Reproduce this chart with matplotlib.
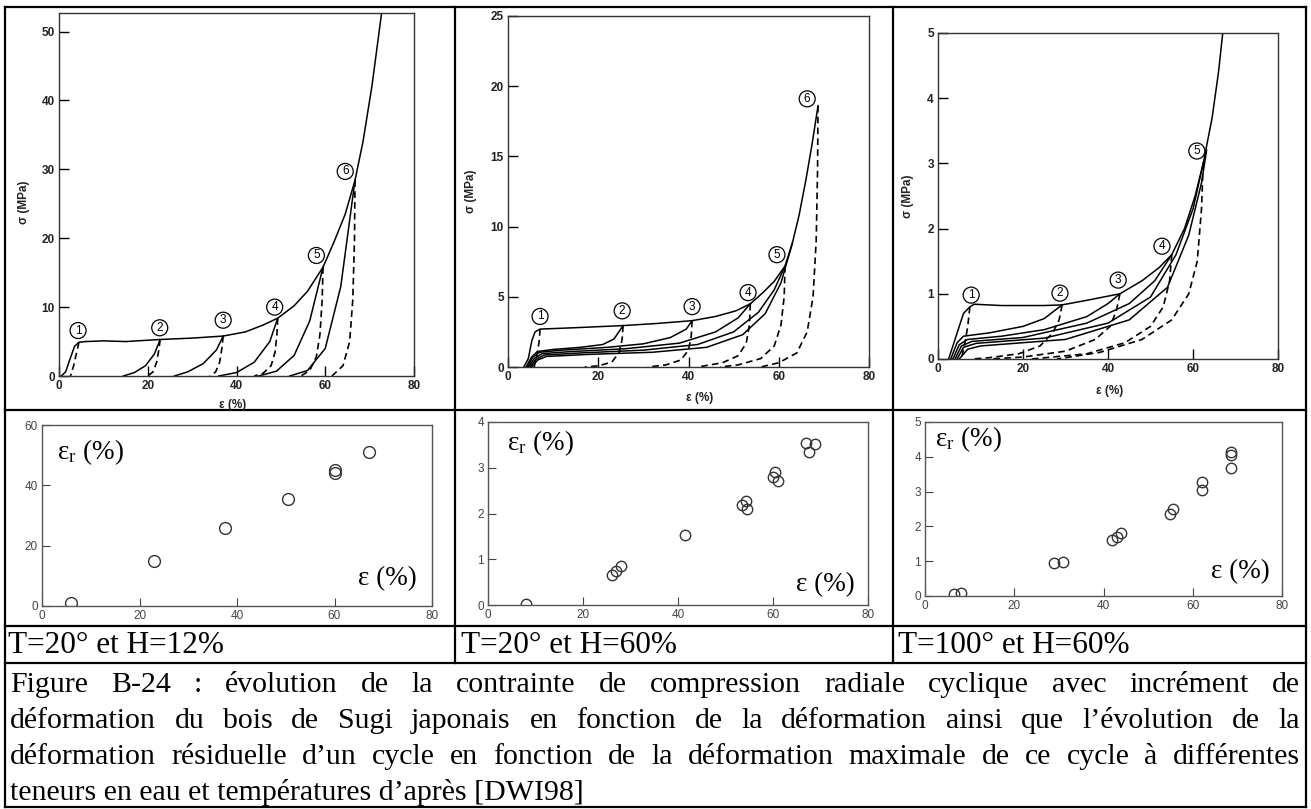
import matplotlib
matplotlib.use("Agg")
import matplotlib.pyplot as plt
from matplotlib.lines import Line2D

plt.rcParams.update({"mathtext.fontset": "custom",
                     "mathtext.rm": "Liberation Serif",
                     "mathtext.it": "Liberation Serif:italic"})

W, H = 1311, 809
SERIF = "Liberation Serif"
SANS = "Liberation Sans"
NARROW = ["Liberation Sans Narrow", "Liberation Sans"]

# ---- top row: cyclic compression curves (strain %, stress MPa) ----
# T=20, H=12%
env1_x = [0.5, 1.5, 2.5, 3.5, 4.5, 6, 10, 15, 22.8, 30, 37, 42, 46, 49.3, 53, 56, 59.5, 62, 64.5, 66.7, 68.5, 70.5, 72.7]
env1_y = [0, 0.6, 2.5, 4.3, 4.9, 5.0, 5.1, 5.0, 5.3, 5.5, 5.8, 6.4, 7.4, 8.4, 10.2, 12.3, 15.8, 19.5, 23.5, 28.4, 34, 42, 52.7]
rel1 = [
    ([14.5, 17, 19.5, 21.5, 22.8], [0, 0.5, 1.5, 3.2, 5.3]),
    ([26, 29, 32.5, 35.5, 37], [0, 0.6, 1.8, 3.8, 5.8]),
    ([36, 40, 44, 47.5, 49.3], [0, 0.5, 2.0, 5.0, 8.4]),
    ([45, 49, 53, 56.5, 59.5], [0, 0.7, 3.0, 8.0, 15.8]),
    ([52, 56, 60, 63.5, 66.7], [0, 0.8, 4.0, 13.0, 28.4]),
]
unl1 = [
    ([4.5, 4.0, 3.3, 2.6], [4.9, 3.5, 1.5, 0]),
    ([22.8, 22.5, 22.0, 21.2, 20], [5.3, 3.8, 2.0, 0.6, 0]),
    ([37, 36.7, 36.2, 35.3, 34], [5.8, 4.0, 2.0, 0.6, 0]),
    ([49.3, 49.1, 48.7, 47.8, 46, 44], [8.4, 6, 3.5, 1.5, 0.4, 0]),
    ([59.5, 59.3, 58.8, 58, 56.5, 54.5], [15.8, 11, 6, 2.8, 0.8, 0]),
    ([66.7, 66.6, 66.2, 65.5, 64, 61.5], [28.4, 20, 11, 5, 1.5, 0]),
]
lab1 = [(4.3, 6.6), (22.7, 7.0), (37, 8.1), (48.6, 10.0), (58, 17.5), (64.5, 29.7)]

# T=20, H=60%
env2_x = [3.5, 4.5, 5.3, 6, 7.1, 15, 25.5, 33, 40.8, 46, 50.5, 53.7, 56.5, 59, 61.4, 63, 64.5, 66, 67.4, 68.7]
env2_y = [0, 0.6, 1.9, 2.5, 2.7, 2.8, 2.95, 3.1, 3.3, 3.6, 4.0, 4.5, 5.3, 6.1, 7.2, 8.8, 10.8, 13.3, 15.9, 18.6]
rel2 = [
    ([4.0, 5.2, 6.5, 10, 16, 21, 23.5, 25.5], [0, 0.7, 1.1, 1.25, 1.4, 1.6, 2.0, 2.95]),
    ([4.3, 5.5, 7, 12, 22, 30, 36, 39.5, 40.8], [0, 0.7, 1.05, 1.2, 1.4, 1.65, 2.1, 2.7, 3.3]),
    ([4.6, 5.8, 7.5, 14, 26, 38, 46, 51, 53.7], [0, 0.6, 0.95, 1.1, 1.3, 1.7, 2.5, 3.5, 4.5]),
    ([4.9, 6.2, 8, 16, 30, 42, 50, 55.5, 59, 61.4], [0, 0.55, 0.85, 1.0, 1.2, 1.6, 2.5, 3.9, 5.5, 7.2]),
    ([5.2, 6.6, 8.5, 18, 32, 44, 52, 57, 60.5, 63], [0, 0.5, 0.75, 0.9, 1.05, 1.4, 2.3, 3.8, 6.0, 8.8]),
]
unl2 = [
    ([7.1, 6.9, 6.4, 5.8], [2.7, 1.8, 0.8, 0]),
    ([25.5, 25.3, 24.6, 23, 20, 17], [2.95, 2.0, 1.0, 0.35, 0.08, 0]),
    ([40.8, 40.6, 40, 38.3, 35, 31], [3.3, 2.2, 1.2, 0.5, 0.15, 0]),
    ([53.7, 53.5, 52.8, 51, 47.5, 42], [4.5, 3.0, 1.7, 0.8, 0.3, 0]),
    ([61.4, 61.2, 60.5, 59, 56, 51, 47], [7.2, 5.0, 3.0, 1.5, 0.6, 0.15, 0]),
    ([68.7, 68.6, 68.3, 67.6, 66.3, 64, 60, 56], [18.6, 14, 9, 5, 2.5, 1.0, 0.3, 0]),
]
lab2 = [(7.1, 3.6), (25.3, 4.0), (40.8, 4.3), (53.2, 5.3), (59.6, 8.0), (66.3, 19.1)]

# T=100, H=60%
env3_x = [2.5, 4, 6, 7.5, 8.5, 15, 25, 29.2, 35, 42.8, 48, 52, 55, 58, 60.5, 62.4, 64.5, 66, 67]
env3_y = [0, 0.3, 0.7, 0.8, 0.84, 0.82, 0.82, 0.83, 0.9, 1.0, 1.2, 1.4, 1.6, 2.0, 2.5, 3.0, 3.7, 4.4, 5.0]
rel3 = [
    ([3, 4.5, 6, 12, 20, 25, 29.2], [0, 0.25, 0.35, 0.4, 0.5, 0.62, 0.83]),
    ([3.5, 5, 7, 15, 25, 35, 40, 42.8], [0, 0.22, 0.3, 0.35, 0.45, 0.65, 0.85, 1.0]),
    ([4, 5.5, 8, 20, 35, 45, 51, 55], [0, 0.2, 0.27, 0.33, 0.55, 0.85, 1.2, 1.6]),
    ([4.5, 6, 9, 25, 40, 50, 56, 60, 62.4], [0, 0.18, 0.24, 0.32, 0.55, 0.95, 1.6, 2.3, 3.0]),
    ([5, 7, 10, 30, 45, 54, 59, 62, 63.2], [0, 0.15, 0.2, 0.3, 0.6, 1.1, 1.9, 2.7, 3.2]),
]
unl3 = [
    ([7.5, 7, 6.2, 5.5], [0.8, 0.5, 0.2, 0]),
    ([29.2, 28.5, 27, 24, 19, 12, 8], [0.83, 0.6, 0.4, 0.2, 0.08, 0.02, 0]),
    ([42.8, 42, 40.5, 37, 30, 20, 12], [1.0, 0.75, 0.5, 0.3, 0.12, 0.03, 0]),
    ([55, 54.5, 53, 50, 44, 35, 22], [1.6, 1.2, 0.8, 0.5, 0.25, 0.08, 0]),
    ([62.4, 62, 61, 59, 55, 48, 38, 28], [3.0, 2.3, 1.5, 1.0, 0.6, 0.3, 0.1, 0]),
]
lab3 = [(7.8, 0.98), (28.7, 1.01), (42.4, 1.21), (52.7, 1.73), (60.9, 3.19)]

# ---- bottom row: residual strain vs max strain of the cycle ----
sc1_x = [6, 23, 37.5, 50.5, 60, 60, 67]
sc1_y = [1, 15, 26, 35.5, 45, 44, 51]
sc2_x = [8, 26, 27, 28, 41.5, 53.5, 54.3, 54.5, 60, 60.5, 61, 67, 67.5, 68.8]
sc2_y = [0.02, 0.65, 0.75, 0.85, 1.52, 2.18, 2.28, 2.1, 2.8, 2.9, 2.72, 3.55, 3.35, 3.52]
sc3_x = [6.5, 8, 29, 31, 42, 43, 44, 55, 55.5, 62, 62, 68.5, 68.5, 68.5]
sc3_y = [0.05, 0.08, 0.95, 0.97, 1.6, 1.7, 1.8, 2.35, 2.5, 3.05, 3.28, 3.68, 4.05, 4.15]

conditions = ["T=20° et H=12%", "T=20° et H=60%", "T=100° et H=60%"]
caption = [
    "Figure B-24 : évolution de la contrainte de compression radiale cyclique avec incrément de",
    "déformation du bois de Sugi japonais en fonction de la déformation ainsi que l’évolution de la",
    "déformation résiduelle d’un cycle en fonction de la déformation maximale de ce cycle à différentes",
    "teneurs en eau et températures d’après [DWI98]",
]


def px_axes(fig, x0, y0, x1, y1):
    return fig.add_axes([x0 / W, 1 - y1 / H, (x1 - x0) / W, (y1 - y0) / H])


def top_plot(ax, env, rel, unl, labs, ymax, yticks, ylab_pos, xlab_pos):
    ax.plot(*env, color="black", lw=1.1)
    for xs, ys in rel:
        ax.plot(xs, ys, color="black", lw=1.1)
    for xs, ys in unl:
        ax.plot(xs, ys, color="black", lw=1.2, ls=(0, (4, 2.5)))
    for i, (x, y) in enumerate(labs):
        ax.text(x, y, str(i + 1), ha="center", va="center", fontsize=8.5,
                family=SANS, bbox=dict(boxstyle="circle,pad=0.17", fc="none", ec="black", lw=0.9))
    ax.set_xlim(0, 80); ax.set_ylim(0, ymax)
    ax.set_xticks([0, 20, 40, 60, 80]); ax.set_yticks(yticks)
    ax.tick_params(direction="in", length=7, width=1, labelsize=8.5, pad=3)
    for lab in ax.get_xticklabels() + ax.get_yticklabels():
        lab.set_fontweight("bold"); lab.set_family(SANS); lab.set_color("#222222")
    for sp in ax.spines.values():
        sp.set_linewidth(1.0); sp.set_color("#333333")
    ax.set_ylabel("σ (MPa)", fontsize=8.5, fontweight="bold", family=SANS, color="#222222")
    ax.set_xlabel("ε (%)", fontsize=8.5, fontweight="bold", family=SANS, color="#222222")
    ax.yaxis.set_label_coords(*ylab_pos)
    ax.xaxis.set_label_coords(*xlab_pos)


def scatter_plot(ax, xs, ys, ymax, yticks, ms, er_pos, e_pos):
    ax.plot(xs, ys, ls="none", marker="o", ms=ms, mfc="none", mec="#333333", mew=1.0)
    ax.set_xlim(0, 80); ax.set_ylim(0, ymax)
    ax.set_xticks([0, 20, 40, 60, 80]); ax.set_yticks(yticks)
    ax.tick_params(direction="in", length=6, width=0.8, labelsize=8.5, pad=3, colors="#444444")
    for lab in ax.get_xticklabels() + ax.get_yticklabels():
        lab.set_family(NARROW)
    for sp in ax.spines.values():
        sp.set_linewidth(1.0); sp.set_color("#555555")
    ax.text(*er_pos, r"$\mathrm{ε}_{\mathrm{r}}$ (%)", transform=ax.transAxes,
            fontsize=19.5, family=SERIF, va="center")
    ax.text(*e_pos, "ε (%)", transform=ax.transAxes, fontsize=19.5,
            family=SERIF, ha="right", va="center")


fig = plt.figure(figsize=(W / 100, H / 100), dpi=100)
fig.patch.set_facecolor("white")

# table frame drawn in pixel coordinates
ov = fig.add_axes([0, 0, 1, 1], zorder=-1)
ov.set_xlim(0, W); ov.set_ylim(H, 0); ov.axis("off")
lw = 1.6
for y in [7, 410, 626, 663, 807]:
    ov.add_line(Line2D([5, 1306], [y, y], color="black", lw=lw))
for x in [5, 1306]:
    ov.add_line(Line2D([x, x], [7, 807], color="black", lw=lw))
for x in [455, 893]:
    ov.add_line(Line2D([x, x], [7, 663], color="black", lw=lw))

a1 = px_axes(fig, 59, 13, 414, 376)
top_plot(a1, (env1_x, env1_y), rel1, unl1, lab1, 52.7, [0, 10, 20, 30, 40, 50], (-0.082, 0.48), (0.49, -0.062))
a2 = px_axes(fig, 508, 16, 869, 367)
top_plot(a2, (env2_x, env2_y), rel2, unl2, lab2, 25, [0, 5, 10, 15, 20, 25], (-0.086, 0.5), (0.53, -0.07))
a3 = px_axes(fig, 938, 33, 1278, 359)
top_plot(a3, (env3_x, env3_y), rel3, unl3, lab3, 5, [0, 1, 2, 3, 4, 5], (-0.07, 0.5), (0.506, -0.08))

s1 = px_axes(fig, 42, 425, 432, 606)
scatter_plot(s1, sc1_x, sc1_y, 60, [0, 20, 40, 60], 8.5, (0.038, 0.85), (0.96, 0.15))
s2 = px_axes(fig, 488, 422, 868, 605)
scatter_plot(s2, sc2_x, sc2_y, 4, [0, 1, 2, 3, 4], 7.5, (0.05, 0.885), (0.965, 0.11))
s3 = px_axes(fig, 925, 422, 1282, 596)
scatter_plot(s3, sc3_x, sc3_y, 5, [0, 1, 2, 3, 4, 5], 7.5, (0.028, 0.9), (0.965, 0.14))

# condition labels
for x, txt in zip([8, 461, 898], conditions):
    ov.text(x, 653, txt, fontsize=22.5, family=SERIF, va="baseline", ha="left")

# justified caption (words placed on a common baseline)
renderer = fig.canvas.get_renderer()
left, right = 10, 1300
for i, line in enumerate(caption):
    y = 692 + i * 36
    if i == len(caption) - 1:
        ov.text(left, y, line, fontsize=21.5, family=SERIF, va="baseline")
        continue
    words = line.split(" ")
    texts = [ov.text(0, y, w, fontsize=21.5, family=SERIF, va="baseline") for w in words]
    widths = [t.get_window_extent(renderer).width for t in texts]
    gap = (right - left - sum(widths)) / (len(words) - 1)
    x = left
    for t, wd in zip(texts, widths):
        t.set_x(x)
        x += wd + gap

fig.savefig("out.png", dpi=100)
